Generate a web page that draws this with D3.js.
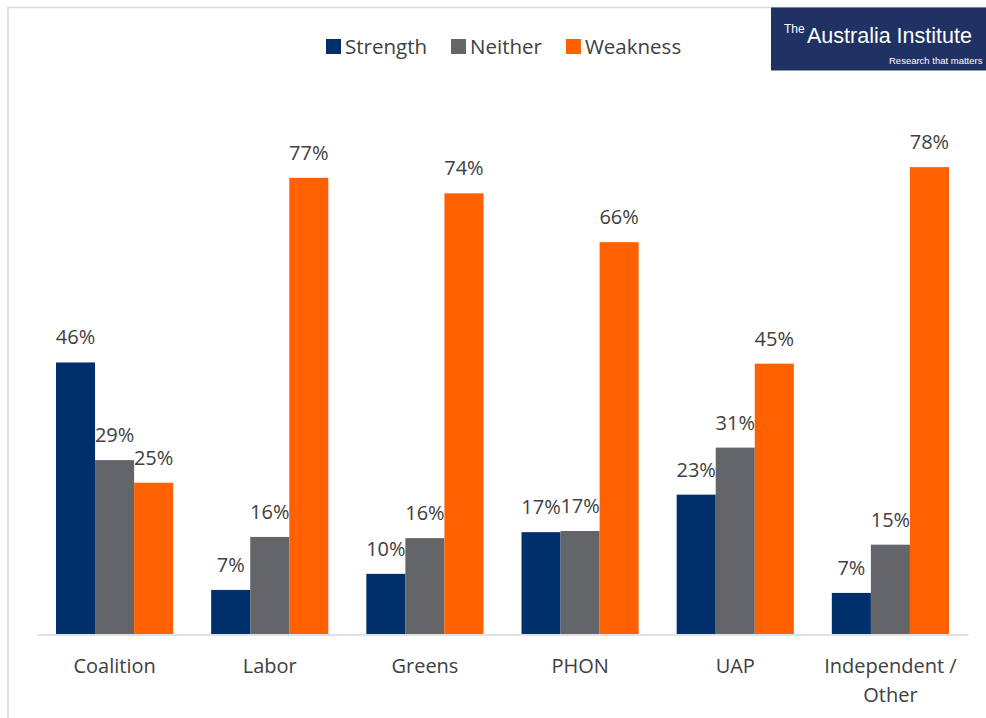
<!DOCTYPE html>
<html>
<head>
<meta charset="utf-8">
<script src="https://cdn.jsdelivr.net/npm/d3@7"></script>
<style>
  html, body { margin: 0; padding: 0; background: #ffffff; }
  svg { display: block; font-family: "Open Sans", sans-serif; }
</style>
</head>
<body>
<svg id="chart" width="986" height="718"></svg>
<script>
// categories along the x axis
const categories = ["Coalition", "Labor", "Greens", "PHON", "UAP", "Independent / Other"];
const tickLines = [["Coalition"], ["Labor"], ["Greens"], ["PHON"], ["UAP"], ["Independent /", "Other"]];

// series (percent of respondents)
const seriesNames = ["Strength", "Neither", "Weakness"];
const strength = [45.6, 7.4, 10.1, 17.1, 23.4, 6.9];
const neither  = [29.2, 16.3, 16.1, 17.3, 31.3, 15.0];
const weakness = [25.4, 76.6, 74.0, 65.8, 45.4, 78.4];
const colors = ["#00306b", "#636569", "#ff6000"];

const seriesValues = [strength, neither, weakness];

const svg = d3.select("#chart");
const W = 986, H = 718;

// light frame round the chart area (runs off the right and bottom)
svg.append("rect")
  .attr("x", 8).attr("y", 7.5)
  .attr("width", W + 20).attr("height", H + 20)
  .attr("fill", "none")
  .attr("stroke", "#d9d9d9")
  .attr("stroke-width", 1.5);

const x0 = d3.scaleBand()
  .domain(categories)
  .range([37, 968])
  .paddingInner(0.245)
  .paddingOuter(0.1225);

const x1 = d3.scaleBand()
  .domain(seriesNames)
  .range([0, x0.bandwidth()]);

const y = d3.scaleLinear()
  .domain([0, 100])
  .range([634, 38.5]);

// flatten into one row per bar
const rows = [];
categories.forEach((c, i) => {
  seriesNames.forEach((s, j) => {
    rows.push({cat: c, series: s, value: seriesValues[j][i], color: colors[j]});
  });
});

const g = svg.append("g");

g.selectAll("rect.bar")
  .data(rows)
  .enter()
  .append("rect")
  .attr("class", "bar")
  .attr("x", d => x0(d.cat) + x1(d.series))
  .attr("y", d => y(d.value))
  .attr("width", x1.bandwidth())
  .attr("height", d => y(0) - y(d.value))
  .attr("fill", d => d.color);

// value labels
g.selectAll("text.val")
  .data(rows)
  .enter()
  .append("text")
  .attr("class", "val")
  .attr("x", d => x0(d.cat) + x1(d.series) + x1.bandwidth() / 2)
  .attr("y", d => y(d.value) - 18)
  .attr("text-anchor", "middle")
  .attr("font-size", 20)
  .attr("fill", "#404040")
  .text(d => Math.round(d.value) + "%");

// x axis
const xAxis = svg.append("g")
  .attr("transform", `translate(0, ${y(0) + 0.5})`)
  .call(d3.axisBottom(x0).tickSize(0).tickSizeOuter(0).tickPadding(0));

xAxis.select(".domain")
  .attr("stroke", "#d9d9d9")
  .attr("stroke-width", 1.5);

xAxis.selectAll(".tick text").each(function(d, i) {
  const t = d3.select(this);
  t.text(null)
    .attr("y", 0)
    .attr("dy", null)
    .attr("font-family", "Open Sans, sans-serif")
    .attr("font-size", 20)
    .attr("fill", "#404040");
  tickLines[i].forEach((line, k) => {
    t.append("tspan")
      .attr("x", 0)
      .attr("y", 38 + k * 29)
      .text(line);
  });
});

// legend
const legend = svg.append("g");
let lx = 326;
seriesNames.forEach((s, j) => {
  legend.append("rect")
    .attr("x", lx).attr("y", 39)
    .attr("width", 15).attr("height", 15)
    .attr("fill", colors[j]);
  const t = legend.append("text")
    .attr("x", lx + 19).attr("y", 54)
    .attr("font-size", 20.5)
    .attr("fill", "#404040")
    .text(s);
  lx += 19 + t.node().getComputedTextLength() + 24;
});

// logo block in the corner
const logo = svg.append("g");
logo.append("rect")
  .attr("x", 771).attr("y", 7.5)
  .attr("width", W - 771).attr("height", 63)
  .attr("fill", "#1f3263");
logo.append("text")
  .attr("x", 784).attr("y", 33)
  .attr("font-family", "Liberation Sans, sans-serif")
  .attr("font-size", 12)
  .attr("fill", "#ffffff")
  .text("The");
logo.append("text")
  .attr("x", 807).attr("y", 43)
  .attr("font-family", "Liberation Sans, sans-serif")
  .attr("font-size", 21.5)
  .attr("fill", "#ffffff")
  .text("Australia Institute");
logo.append("text")
  .attr("x", 889).attr("y", 64)
  .attr("font-family", "Liberation Sans, sans-serif")
  .attr("font-size", 9.5)
  .attr("fill", "#ffffff")
  .text("Research that matters");
</script>
</body>
</html>
